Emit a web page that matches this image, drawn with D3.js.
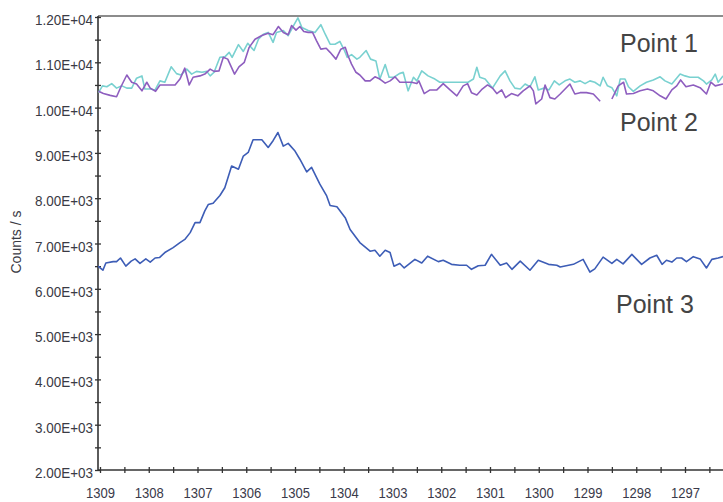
<!DOCTYPE html>
<html>
<head>
<meta charset="utf-8">
<script src="https://cdn.jsdelivr.net/npm/d3@7"></script>
<style>
    body { margin: 0; background: #fff; }
    svg { display: block; font-family: "Liberation Sans", Arial, sans-serif; }
</style>
</head>
<body>
<div id="chart"></div>
<script>
// tick labels
const xTicks = [1309, 1308, 1307, 1306, 1305, 1304, 1303, 1302, 1301, 1300, 1299, 1298, 1297]
const yTicks = [2000, 3000, 4000, 5000, 6000, 7000, 8000, 9000, 10000, 11000, 12000]
const seriesNames = ["Point 1", "Point 2", "Point 3"]
const seriesColors = ["#79d1d0", "#8e5ebf", "#3d5db6"]

// [wavenumber, counts/s]
const point1 = [[1309.03, 10330], [1308.95, 10480], [1308.86, 10460], [1308.76, 10530], [1308.66, 10430], [1308.55, 10480], [1308.45, 10430], [1308.35, 10430], [1308.25, 10650], [1308.14, 10700], [1308.08, 10410], [1307.97, 10410], [1307.87, 10390], [1307.77, 10590], [1307.67, 10560], [1307.54, 10900], [1307.43, 10750], [1307.34, 10720], [1307.22, 10850], [1307.12, 10740], [1307.02, 10800], [1306.91, 10780], [1306.81, 10800], [1306.74, 10700], [1306.66, 10780], [1306.54, 11110], [1306.44, 11120], [1306.35, 11220], [1306.29, 11110], [1306.16, 11390], [1306.06, 11240], [1305.97, 11420], [1305.90, 11330], [1305.84, 11260], [1305.75, 11510], [1305.65, 11620], [1305.55, 11660], [1305.45, 11440], [1305.38, 11660], [1305.24, 11700], [1305.14, 11590], [1305.03, 11810], [1304.94, 11980], [1304.86, 11770], [1304.73, 11700], [1304.59, 11660], [1304.47, 11830], [1304.38, 11620], [1304.28, 11400], [1304.18, 11400], [1304.08, 11460], [1303.99, 11270], [1303.93, 11110], [1303.84, 11170], [1303.73, 11070], [1303.67, 11110], [1303.54, 11260], [1303.45, 11070], [1303.34, 11030], [1303.26, 10630], [1303.15, 10950], [1303.07, 10670], [1302.97, 10670], [1302.86, 10750], [1302.78, 10780], [1302.68, 10370], [1302.57, 10670], [1302.50, 10590], [1302.40, 10810], [1302.27, 10700], [1302.13, 10630], [1302.03, 10560], [1301.45, 10560], [1301.34, 10630], [1301.27, 10890], [1301.21, 10670], [1301.10, 10630], [1300.95, 10430], [1300.79, 10700], [1300.69, 10810], [1300.59, 10590], [1300.49, 10430], [1300.38, 10410], [1300.28, 10520], [1300.18, 10460], [1300.08, 10680], [1300.01, 10390], [1299.89, 10430], [1299.79, 10390], [1299.68, 10590], [1299.58, 10500], [1299.46, 10590], [1299.36, 10630], [1299.26, 10560], [1299.15, 10590], [1299.05, 10530], [1298.95, 10590], [1298.85, 10560], [1298.74, 10480], [1298.68, 10670], [1298.59, 10480], [1298.50, 10440], [1298.40, 10260], [1298.33, 10630], [1298.23, 10630], [1298.16, 10460], [1298.06, 10360], [1297.92, 10480], [1297.79, 10560], [1297.65, 10610], [1297.51, 10680], [1297.41, 10590], [1297.27, 10520], [1297.10, 10740], [1297.00, 10700], [1296.90, 10670], [1296.73, 10670], [1296.62, 10590], [1296.56, 10520], [1296.45, 10610], [1296.38, 10740], [1296.32, 10560], [1296.22, 10700]]

const point2 = [[1309.03, 10360], [1308.93, 10310], [1308.79, 10270], [1308.66, 10240], [1308.57, 10460], [1308.45, 10720], [1308.35, 10560], [1308.25, 10520], [1308.14, 10370], [1308.04, 10560], [1307.97, 10430], [1307.86, 10360], [1307.77, 10500], [1307.67, 10500], [1307.46, 10500], [1307.36, 10630], [1307.26, 10870], [1307.17, 10500], [1307.09, 10670], [1306.95, 10700], [1306.85, 10740], [1306.74, 10850], [1306.66, 10800], [1306.56, 10810], [1306.47, 11110], [1306.38, 11070], [1306.24, 10740], [1306.15, 10900], [1306.04, 11000], [1305.94, 11330], [1305.82, 11510], [1305.68, 11590], [1305.55, 11640], [1305.45, 11610], [1305.34, 11790], [1305.24, 11660], [1305.14, 11610], [1305.07, 11810], [1304.98, 11710], [1304.90, 11790], [1304.82, 11680], [1304.73, 11660], [1304.64, 11660], [1304.56, 11480], [1304.47, 11290], [1304.36, 11310], [1304.28, 11220], [1304.16, 11070], [1304.06, 11290], [1303.97, 11330], [1303.91, 11140], [1303.84, 10960], [1303.75, 10780], [1303.67, 10720], [1303.56, 10590], [1303.46, 10590], [1303.36, 10680], [1303.26, 10630], [1303.15, 10540], [1303.05, 10590], [1302.95, 10680], [1302.85, 10560], [1302.74, 10560], [1302.61, 10560], [1302.50, 10530], [1302.46, 10590], [1302.35, 10310], [1302.23, 10390], [1302.09, 10390], [1301.96, 10530], [1301.82, 10390], [1301.68, 10260], [1301.55, 10480], [1301.46, 10530], [1301.38, 10330], [1301.27, 10280], [1301.16, 10410], [1301.05, 10500], [1300.95, 10430], [1300.86, 10310], [1300.76, 10390], [1300.68, 10220], [1300.56, 10310], [1300.43, 10260], [1300.32, 10370], [1300.18, 10480], [1300.11, 10370], [1300.06, 10080], [1299.94, 10190], [1299.87, 10500], [1299.77, 10220], [1299.67, 10190], [1299.56, 10300], [1299.46, 10410], [1299.36, 10520], [1299.26, 10300], [1299.15, 10330], [1299.02, 10330], [1298.88, 10300], [1298.74, 10140], [1298.62, null], [1298.50, 10190], [1298.37, 10480], [1298.26, 10560], [1298.20, 10300], [1298.06, 10310], [1297.92, 10370], [1297.77, 10410], [1297.65, 10370], [1297.51, 10260], [1297.39, 10190], [1297.27, 10390], [1297.17, 10480], [1297.09, 10610], [1296.98, 10460], [1296.83, 10500], [1296.69, 10440], [1296.56, 10300], [1296.47, 10560], [1296.38, 10480], [1296.22, 10520]]

const point3 = [[1309.04, 6500], [1308.94, 6410], [1308.88, 6570], [1308.73, 6600], [1308.66, 6600], [1308.58, 6680], [1308.47, 6500], [1308.36, 6610], [1308.28, 6660], [1308.18, 6560], [1308.06, 6660], [1307.97, 6590], [1307.87, 6680], [1307.78, 6690], [1307.67, 6800], [1307.50, 6910], [1307.36, 7020], [1307.26, 7090], [1307.15, 7240], [1307.05, 7460], [1306.95, 7460], [1306.85, 7720], [1306.78, 7860], [1306.68, 7890], [1306.54, 8060], [1306.44, 8230], [1306.30, 8710], [1306.16, 8640], [1306.06, 8930], [1305.96, 9010], [1305.86, 9290], [1305.68, 9290], [1305.55, 9120], [1305.45, 9270], [1305.35, 9450], [1305.24, 9150], [1305.14, 9210], [1305.00, 9040], [1304.90, 8860], [1304.76, 8580], [1304.66, 8680], [1304.49, 8310], [1304.35, 8050], [1304.28, 7840], [1304.14, 7810], [1303.97, 7570], [1303.87, 7310], [1303.67, 7020], [1303.46, 6830], [1303.36, 6850], [1303.26, 6720], [1303.15, 6850], [1303.05, 6800], [1302.97, 6500], [1302.85, 6560], [1302.76, 6460], [1302.54, 6650], [1302.40, 6570], [1302.28, 6720], [1302.06, 6600], [1301.96, 6630], [1301.79, 6540], [1301.62, 6520], [1301.48, 6520], [1301.38, 6430], [1301.24, 6510], [1301.10, 6520], [1300.97, 6760], [1300.79, 6520], [1300.66, 6570], [1300.55, 6430], [1300.38, 6610], [1300.18, 6410], [1300.01, 6630], [1299.80, 6540], [1299.63, 6520], [1299.56, 6480], [1299.29, 6540], [1299.09, 6650], [1298.95, 6370], [1298.85, 6440], [1298.68, 6700], [1298.50, 6560], [1298.40, 6650], [1298.27, 6550], [1298.09, 6760], [1297.89, 6540], [1297.72, 6680], [1297.58, 6740], [1297.47, 6540], [1297.38, 6630], [1297.27, 6590], [1297.17, 6680], [1297.07, 6680], [1296.97, 6600], [1296.83, 6710], [1296.69, 6660], [1296.56, 6460], [1296.45, 6650], [1296.32, 6680], [1296.22, 6710]]

const series = [point1, point2, point3]

function drawChart() {
    const width = 723, height = 502
    const left = 98, right = 723, top = 16, bottom = 470

    const svg = d3.select("#chart")
        .append("svg")
            .attr("width", width)
            .attr("height", height)

    // scales, reversed wavenumber axis
    const x = d3.scaleLinear()
        .domain([1309, 1297])
        .range([100, 685])

    const y = d3.scaleLinear()
        .domain([2000, 12000])
        .range([bottom, top + 1])

    // 1.20E+04 style labels
    const sci = v => {
        const e = Math.floor(Math.log10(v))
        return (v / Math.pow(10, e)).toFixed(2) + "E+" + String(e).padStart(2, "0")
    }

    // clip for the lines
    svg.append("clipPath")
        .attr("id", "plot")
        .append("rect")
            .attr("x", left)
            .attr("y", top)
            .attr("width", right - left)
            .attr("height", bottom - top)

    // y axis: ticks every 500, labels every 1000
    const yAxis = svg.append("g")
        .attr("transform", `translate(${left},0)`)
        .call(d3.axisLeft(y)
            .tickValues(d3.range(2000, 12001, 500))
            .tickSize(3)
            .tickFormat(d => yTicks.includes(d) ? sci(d) : ""))
    yAxis.select(".domain").remove()
    yAxis.selectAll(".tick line")
        .attr("x1", -3).attr("x2", 3)
        .attr("stroke", "#333")
        .attr("stroke-width", 1.3)
    yAxis.selectAll(".tick text")
        .attr("x", -5)
        .attr("dy", "0.5em")
        .attr("fill", "#3a3a44")
        .style("font-size", "15px")
        .style("font-family", "'Liberation Sans', Arial, sans-serif")
        .style("transform-box", "fill-box")
        .style("transform-origin", "right center")
        .style("transform", "scaleX(0.9)")

    // x axis: ticks every 0.5, labels every 1
    const xAxis = svg.append("g")
        .attr("transform", `translate(0,${bottom})`)
        .call(d3.axisBottom(x)
            .tickValues(d3.range(1309, 1296.4, -0.5))
            .tickSize(3)
            .tickFormat(d => xTicks.includes(d) ? d : ""))
    xAxis.select(".domain").remove()
    xAxis.selectAll(".tick line")
        .attr("y1", -3).attr("y2", 3)
        .attr("stroke", "#333")
        .attr("stroke-width", 1.3)
    xAxis.selectAll(".tick text")
        .attr("y", 17)
        .attr("dy", "0.71em")
        .attr("fill", "#3a3a4a")
        .style("font-size", "15px")
        .style("font-family", "'Liberation Sans', Arial, sans-serif")
        .style("transform-box", "fill-box")
        .style("transform-origin", "center")
        .style("transform", "scaleX(0.87)")

    // frame lines
    svg.append("line")
        .attr("x1", left).attr("x2", right)
        .attr("y1", top).attr("y2", top)
        .attr("stroke", "#666")
        .attr("stroke-width", 1.6)
    svg.append("line")
        .attr("x1", left).attr("x2", left)
        .attr("y1", top).attr("y2", bottom)
        .attr("stroke", "#333")
        .attr("stroke-width", 1.6)
    svg.append("line")
        .attr("x1", left).attr("x2", right)
        .attr("y1", bottom).attr("y2", bottom)
        .attr("stroke", "#333")
        .attr("stroke-width", 1.6)

    // y title
    svg.append("text")
        .attr("transform", `translate(21,242) rotate(-90)`)
        .attr("text-anchor", "middle")
        .attr("fill", "#3a3a44")
        .style("font-size", "14px")
        .text("Counts / s")

    // lines
    const line = d3.line()
        .defined(d => d[1] !== null)
        .x(d => x(d[0]))
        .y(d => y(d[1]))

    svg.append("g")
        .attr("clip-path", "url(#plot)")
        .selectAll("path")
        .data(series)
        .join("path")
            .attr("d", line)
            .attr("fill", "none")
            .attr("stroke", (d, i) => seriesColors[i])
            .attr("stroke-width", 1.6)
            .attr("stroke-linejoin", "round")

    // series labels
    const labelPos = [[620, 52], [620, 131], [616, 313]]
    svg.selectAll(".label")
        .data(seriesNames)
        .join("text")
            .attr("class", "label")
            .attr("x", (d, i) => labelPos[i][0])
            .attr("y", (d, i) => labelPos[i][1])
            .attr("fill", "#444")
            .style("font-size", "25px")
            .text(d => d)
}

drawChart()
</script>
</body>
</html>
